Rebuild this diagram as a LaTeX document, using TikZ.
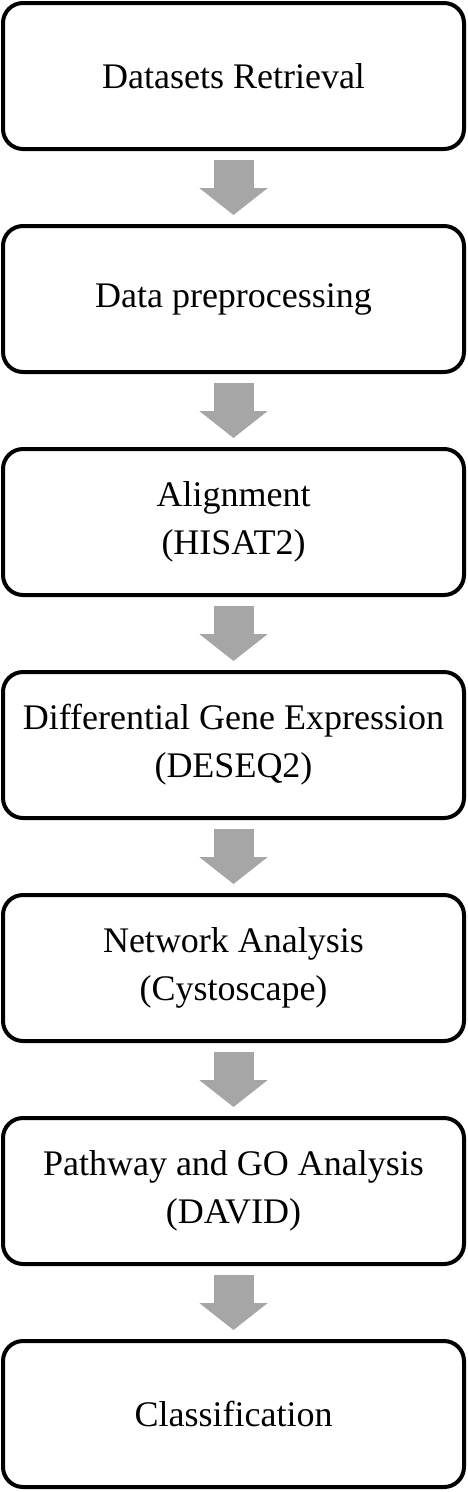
\documentclass[tikz,border=0pt]{standalone}
\usepackage{fontspec}
\setmainfont{Liberation Serif}
\usetikzlibrary{positioning,arrows.meta}
\definecolor{arrowgray}{RGB}{166,166,166}
\begin{document}
\begin{tikzpicture}[node distance=73pt,
    stage/.style={rectangle, draw, line width=4pt, rounded corners=20pt,
        minimum width=461pt, minimum height=146pt, align=center,
        font=\fontsize{36}{48}\selectfont},
    flowarrow/.style={draw=arrowgray, line width=40pt,
        -{Triangle[width=67pt,length=27pt]}, shorten <=9pt, shorten >=9pt}]
    \useasboundingbox (0,0) rectangle (467pt,-1492pt);
    \node (retrieval) [stage] at (233.5pt,-76pt) {Datasets Retrieval};
    \node (preproc) [stage, below=of retrieval] {Data preprocessing};
    \node (align) [stage, below=of preproc] {Alignment\\(HISAT2)};
    \node (deg) [stage, below=of align] {Differential Gene Expression\\(DESEQ2)};
    \node (network) [stage, below=of deg] {Network Analysis\\(Cystoscape)};
    \node (pathway) [stage, below=of network] {Pathway and GO Analysis\\(DAVID)};
    \node (classif) [stage, below=of pathway] {Classification};

    \draw[flowarrow] (retrieval) -- (preproc);
    \draw[flowarrow] (preproc) -- (align);
    \draw[flowarrow] (align) -- (deg);
    \draw[flowarrow] (deg) -- (network);
    \draw[flowarrow] (network) -- (pathway);
    \draw[flowarrow] (pathway) -- (classif);
\end{tikzpicture}
\end{document}
